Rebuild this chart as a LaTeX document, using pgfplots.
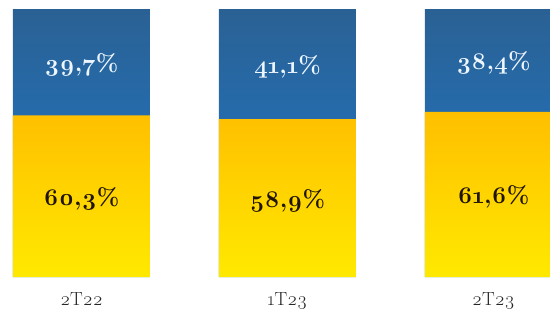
\documentclass[border=0pt]{standalone}
\usepackage{fontspec}
\setmainfont{Latin Modern Roman}[Numbers=OldStyle]
\usepackage{pgfplots}
\pgfplotsset{compat=1.18}
\definecolor{bluetop}{HTML}{2A6194}
\definecolor{bluebot}{HTML}{1E7ACF}
\definecolor{yeltop}{HTML}{FFBF00}
\definecolor{yelbot}{HTML}{FFE900}
\definecolor{lblwhite}{HTML}{EEF6FF}
\definecolor{lbldark}{HTML}{1E1400}
\begin{document}
\begin{tikzpicture}
\path[use as bounding box] (0,0) rectangle (550pt,317pt);
\begin{axis}[
  at={(0pt,40pt)}, anchor=south west,
  scale only axis, width=550pt, height=268pt,
  xmin=-0.3956, xmax=2.2743, ymin=0, ymax=100,
  clip=false,
  axis line style={draw=none},
  ytick=\empty,
  xtick={0,1,2},
  xticklabels={2T22,1T23,2T23},
  major tick length=0pt,
  xticklabel style={font=\fontsize{19}{22}\selectfont, text=black!85, yshift=-12pt},
  bar width=0.665,
]
% blue (top) segment: full bar, then yellow drawn over it
\addplot[ybar, bar shift=0pt, draw=none, top color=bluetop, middle color=bluebot, bottom color=bluebot]
  coordinates {(0,100) (1,100) (2,100)};
\addplot[ybar, bar shift=0pt, draw=none, top color=yeltop, bottom color=yelbot]
  coordinates {(0,60.3) (1,58.9) (2,61.6)};
% labels
\addplot[only marks, mark=none, nodes near coords, point meta=explicit symbolic,
  nodes near coords style={anchor=center, text=lblwhite, font=\bfseries\fontsize{24}{28}\selectfont}]
  coordinates {(0,79.2)[39,7\%] (1,78.5)[41,1\%] (2,79.9)[38,4\%]};
\addplot[only marks, mark=none, nodes near coords, point meta=explicit symbolic,
  nodes near coords style={anchor=center, text=lbldark, font=\bfseries\fontsize{24}{28}\selectfont}]
  coordinates {(0,29.2)[60,3\%] (1,28.5)[58,9\%] (2,29.9)[61,6\%]};
\end{axis}
\end{tikzpicture}
\end{document}
